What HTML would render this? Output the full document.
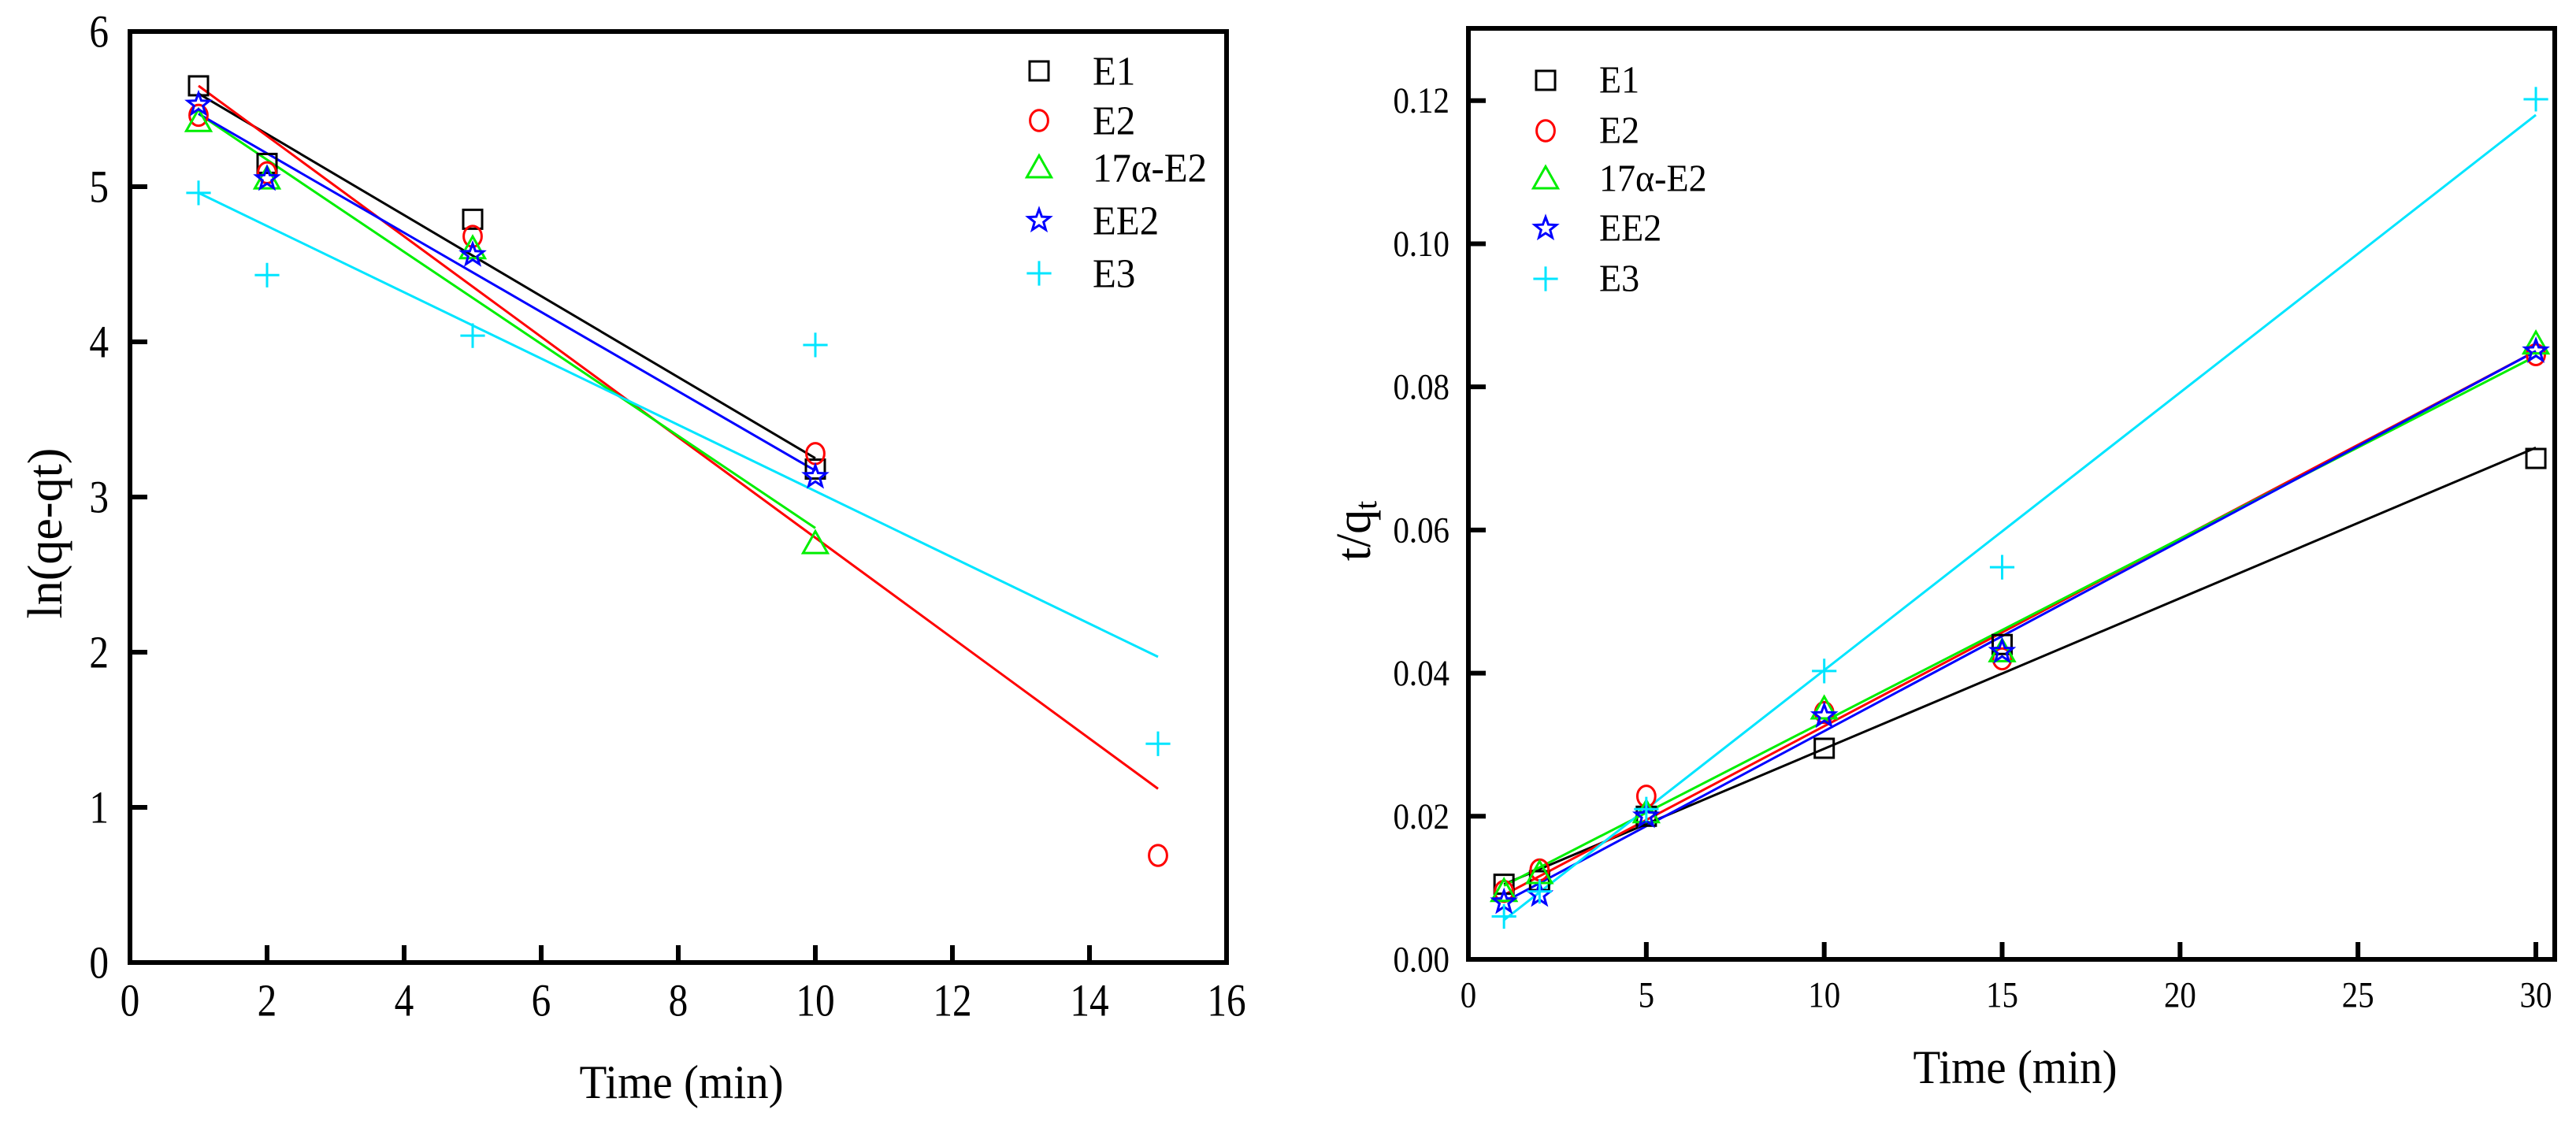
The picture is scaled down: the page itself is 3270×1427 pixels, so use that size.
<!DOCTYPE html>
<html><head><meta charset="utf-8">
<style>
html,body{margin:0;padding:0;background:#fff;}
svg{display:block;}
text{font-family:"Liberation Serif","Times New Roman",serif;fill:#000;}
</style></head>
<body>
<svg id="fig" width="3270" height="1427" viewBox="0 0 3270 1427" xmlns="http://www.w3.org/2000/svg"></svg>
<script>
// ---------- Left chart data (pseudo-first-order) ----------
const leftSeriesNames = ["E1","E2","17α-E2","EE2","E3"];
const leftX_E1 = [1,2,5,10];
const leftY_E1 = [5.65,5.15,4.79,3.18];
const leftX_E2 = [1,2,5,10,15];
const leftY_E2 = [5.46,5.09,4.68,3.28,0.69];
const leftX_17a = [1,2,5,10];
const leftY_17a = [5.42,5.05,4.60,2.70];
const leftX_EE2 = [1,2,5,10];
const leftY_EE2 = [5.53,5.05,4.56,3.13];
const leftX_E3 = [1,2,5,10,15];
const leftY_E3 = [4.96,4.43,4.04,3.98,1.41];
const leftFitX = [[1,10],[1,15],[1,10],[1,10],[1,15]];
const leftFitY = [[5.60,3.25],[5.65,1.12],[5.47,2.80],[5.47,3.17],[4.96,1.97]];
const leftXTicks = [0,2,4,6,8,10,12,14,16];
const leftYTicks = [0,1,2,3,4,5,6];
const leftYTickLabels = ["0","1","2","3","4","5","6"];

// ---------- Right chart data (pseudo-second-order) ----------
const rightX = [1,2,5,10,15,30];
const rightY_E1 = [0.0105,0.0110,0.0200,0.0295,0.0440,0.0700];
const rightY_E2 = [0.0095,0.0125,0.0228,0.0345,0.0420,0.0845];
const rightY_17a = [0.0095,0.0120,0.0205,0.0350,0.0430,0.0860];
const rightY_EE2 = [0.0080,0.0090,0.0200,0.0340,0.0430,0.0850];
const rightY_E3 = [0.0060,0.0095,0.0210,0.0403,0.0548,0.1202];
const rightFitX = [[1,30],[1,30],[1,30],[1,30],[1,30]];
const rightFitY = [[0.0105,0.0715],[0.0090,0.0850],[0.0103,0.0843],[0.0080,0.0850],[0.0055,0.1180]];
const rightXTicks = [0,5,10,15,20,25,30];
const rightYTicks = [0,0.02,0.04,0.06,0.08,0.10,0.12];
const rightYTickLabels = ["0.00","0.02","0.04","0.06","0.08","0.10","0.12"];

const colors = ["#000000","#ff0000","#00ee00","#0000ff","#00e5ff"];
const shapes = ["square","circle","triangle","star","plus"];
const NS = "http://www.w3.org/2000/svg";
const svg = document.getElementById("fig");

function mk(tag, attrs, parent){
  const e = document.createElementNS(NS, tag);
  for (const k in attrs) e.setAttribute(k, attrs[k]);
  (parent||svg).appendChild(e);
  return e;
}
function txt(parent, s, x, y, size, anchor, sx, rot){
  const g = mk("g", {transform:`translate(${x},${y})` + (rot?` rotate(${rot})`:"") + ` scale(${sx},1)`}, parent);
  const t = mk("text", {x:0, y:0, "font-size":size, "text-anchor":anchor, "dominant-baseline":"central"}, g);
  t.textContent = s;
  return t;
}
function marker(parent, shape, cx, cy, color, r){
  let e;
  if (shape==="square"){
    e = mk("rect",{x:cx-r,y:cy-r,width:2*r,height:2*r,fill:"none",stroke:color,"stroke-width":3},parent);
  } else if (shape==="circle"){
    e = mk("ellipse",{cx:cx,cy:cy,rx:r*0.95,ry:r*1.1,fill:"none",stroke:color,"stroke-width":3},parent);
  } else if (shape==="triangle"){
    e = mk("polygon",{points:`${cx},${cy-r*1.3} ${cx-r*1.3},${cy+r*1.0} ${cx+r*1.3},${cy+r*1.0}`,fill:"none",stroke:color,"stroke-width":3},parent);
  } else if (shape==="star"){
    let p=[];
    for(let i=0;i<10;i++){const a=-Math.PI/2+i*Math.PI/5;const rr=(i%2?0.5:1.2)*r;p.push((cx+rr*Math.cos(a)).toFixed(1)+","+(cy+rr*Math.sin(a)).toFixed(1));}
    e = mk("polygon",{points:p.join(" "),fill:"none",stroke:color,"stroke-width":3,"stroke-linejoin":"miter"},parent);
  } else {
    e = mk("path",{d:`M${cx-r*1.3},${cy}H${cx+r*1.3}M${cx},${cy-r*1.3}V${cy+r*1.3}`,fill:"none",stroke:color,"stroke-width":3},parent);
  }
  return e;
}

function chart(cfg){
  const g = mk("g",{});
  
  
  const X = v => cfg.L + (v - cfg.xmin)/(cfg.xmax-cfg.xmin)*(cfg.R-cfg.L);
  const Y = v => cfg.B - (v - cfg.ymin)/(cfg.ymax-cfg.ymin)*(cfg.B-cfg.T);
  // fit lines
  cfg.fitX.forEach((fx,i)=>{
    const l = mk("line",{x1:X(fx[0]),y1:Y(cfg.fitY[i][0]),x2:X(fx[1]),y2:Y(cfg.fitY[i][1]),stroke:colors[i],"stroke-width":3},g);
    
    
  });
  // points
  cfg.pts.forEach((s,i)=>{
    s.x.forEach((xv,j)=>{
      const m = marker(g, shapes[i], X(xv), Y(s.y[j]), colors[i], 12);
      
      
    });
  });
  // frame
  const f = mk("rect",{x:cfg.L,y:cfg.T,width:cfg.R-cfg.L,height:cfg.B-cfg.T,fill:"none",stroke:"#000","stroke-width":6},g);
  
  
  // x ticks
  cfg.xTicks.forEach(v=>{
    const tk = mk("line",{x1:X(v),y1:cfg.B,x2:X(v),y2:cfg.B-22,stroke:"#000","stroke-width":6},g);
    
    
    const t = txt(g, String(v), X(v), cfg.xLabY, cfg.tickSize, "middle", cfg.tickSx);
    
    
  });
  cfg.yTicks.forEach((v,i)=>{
    const tk = mk("line",{x1:cfg.L,y1:Y(v),x2:cfg.L+22,y2:Y(v),stroke:"#000","stroke-width":6},g);
    
    
    const t = txt(g, cfg.yLabels[i], cfg.yLabX, Y(v), cfg.tickSize, "end", cfg.tickSx);
    
    
  });
  // titles
  const xt = txt(g, "Time (min)", cfg.xTitle[0], cfg.xTitle[1], 60, "middle", 0.95);
  
  
  let yt;
  if (cfg.yTitleSub){
    const gg = mk("g",{transform:`translate(${cfg.yTitle[0]},${cfg.yTitle[1]}) rotate(-90)`},g);
    yt = mk("text",{x:0,y:0,"font-size":62,"text-anchor":"middle","dominant-baseline":"central"},gg);
    yt.appendChild(document.createTextNode("t/q"));
    const sub = mk("tspan",{"font-size":40,dy:14},yt);
    sub.textContent = "t";
  } else {
    yt = txt(g, cfg.yTitleText, cfg.yTitle[0], cfg.yTitle[1], 62, "middle", 1, -90);
  }
  
  
  // legend
  cfg.series.forEach((s,i)=>{
    const lg = mk("g",{},g);
    
    
    marker(lg, shapes[i], cfg.legMX, cfg.legRows[i], colors[i], 12);
    txt(lg, s, cfg.legTX, cfg.legRows[i], cfg.legSize, "start", 0.94);
  });
}

chart({
  name:"left-chart-ln-qe-qt",
  L:165,R:1557,T:40,B:1222,xmin:0,xmax:16,ymin:0,ymax:6,
  series:leftSeriesNames,
  pts:[{x:leftX_E1,y:leftY_E1},{x:leftX_E2,y:leftY_E2},{x:leftX_17a,y:leftY_17a},{x:leftX_EE2,y:leftY_EE2},{x:leftX_E3,y:leftY_E3}],
  fitX:leftFitX, fitY:leftFitY,
  xTicks:leftXTicks, yTicks:leftYTicks, yLabels:leftYTickLabels,
  tickSize:58, tickSx:0.85, xLabY:1270, yLabX:138,
  xTitle:[865,1374], yTitle:[58,677], yTitleText:"ln(qe-qt)",
  legMX:1319, legTX:1387, legRows:[90,153,213,280,347], legSize:52
});
chart({
  name:"right-chart-t-over-qt",
  L:1864,R:3243,T:36,B:1218,xmin:0,xmax:30.53,ymin:0,ymax:0.1301,
  series:leftSeriesNames,
  pts:rightY_E1.map(()=>0).slice(0,5).map((_,i)=>({x:rightX,y:[rightY_E1,rightY_E2,rightY_17a,rightY_EE2,rightY_E3][i]})),
  fitX:rightFitX, fitY:rightFitY,
  xTicks:rightXTicks, yTicks:rightYTicks, yLabels:rightYTickLabels,
  tickSize:47, tickSx:0.87, xLabY:1263, yLabX:1840,
  xTitle:[2558,1355], yTitle:[1719,674], yTitleSub:true,
  legMX:1962, legTX:2030, legRows:[102,166,227,290,354], legSize:49
});
</script>
</body></html>
